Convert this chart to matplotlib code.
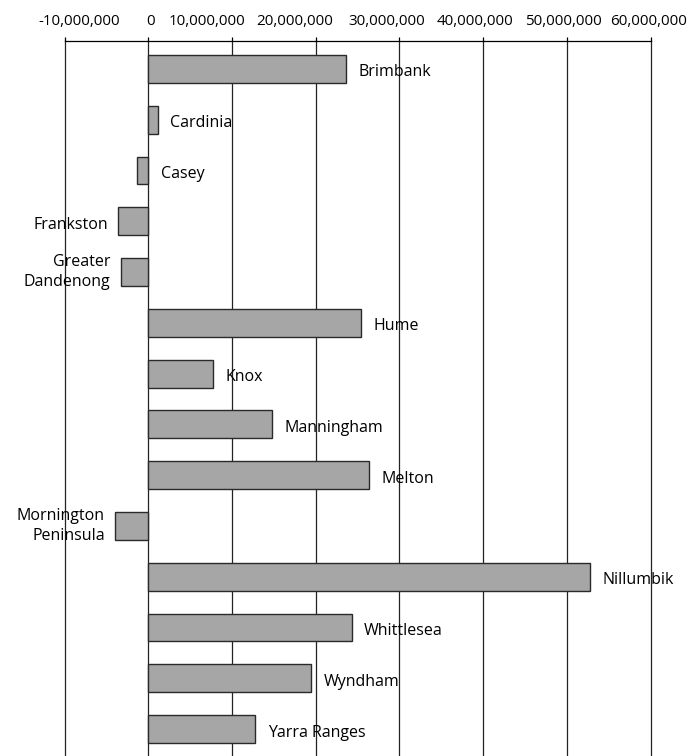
import matplotlib
matplotlib.use("Agg")
import matplotlib.pyplot as plt
import matplotlib.transforms as mtransforms
from matplotlib.ticker import FuncFormatter

plt.rcParams['font.family'] = ['Open Sans', 'DejaVu Sans']

councils = ["Brimbank", "Cardinia", "Casey", "Frankston", "Greater\nDandenong",
            "Hume", "Knox", "Manningham", "Melton", "Mornington\nPeninsula",
            "Nillumbik", "Whittlesea", "Wyndham", "Yarra Ranges"]
values = [23.6e6, 1.15e6, -1.3e6, -3.6e6, -3.3e6,
          25.4e6, 7.7e6, 14.8e6, 26.4e6, -4.0e6,
          52.8e6, 24.3e6, 19.5e6, 12.8e6]
xticks = [-10e6, 0, 10e6, 20e6, 30e6, 40e6, 50e6, 60e6]

# horizontal nudges (pixels) of the tick labels, as laid out in the original
tick_label_nudge_px = [15, 2, -25, -21, -13, -8, -3.5, -2]

fig = plt.figure(figsize=(6.87, 7.56), dpi=100)
ax = fig.add_axes([0.0939, 0.0, 0.8530, 0.9462])

ypos = list(range(len(councils)))
ax.barh(ypos, values, height=0.55, color='#a6a6a6', edgecolor='#2a2a2a',
        linewidth=1.0, zorder=3)

ax.set_xlim(-10e6, 60e6)
ax.set_ylim(len(councils) - 1 + 0.53, -0.557)

ax.xaxis.tick_top()
ax.set_xticks(xticks)
ax.xaxis.set_major_formatter(FuncFormatter(lambda v, p: f"{int(round(v)):,}"))
ax.tick_params(axis='x', which='major', direction='out', length=2.7, width=0.9,
               pad=5.5, labelsize=10.9, colors='black')
ax.set_yticks([])
for s in ['left', 'right', 'bottom']:
    ax.spines[s].set_visible(False)
ax.spines['top'].set_linewidth(0.9)

fig.canvas.draw()
for lab, dx in zip(ax.xaxis.get_ticklabels(), tick_label_nudge_px):
    lab.set_transform(lab.get_transform() +
                      mtransforms.ScaledTranslation(dx / 100, 0, fig.dpi_scale_trans))

for t in xticks:
    ax.axvline(t, color='#222222', linewidth=0.9, zorder=1, clip_on=False)

down = mtransforms.offset_copy(ax.transData, fig=fig, x=0, y=-5.4, units='points')
gap = 1.2e6
for y, name, v in zip(ypos, councils, values):
    multi = "\n" in name
    tr = ax.transData if multi else down
    va = 'center' if multi else 'baseline'
    if v < -2e6:
        ax.text(v - gap, y, name, ha='right', va=va, fontsize=11.5,
                multialignment='right', zorder=4, linespacing=1.4, transform=tr)
    else:
        ax.text(max(v, 0) + gap * 1.25, y, name, ha='left', va=va,
                fontsize=11.5, zorder=4, linespacing=1.4, transform=tr)

fig.savefig("out.png", dpi=100)
